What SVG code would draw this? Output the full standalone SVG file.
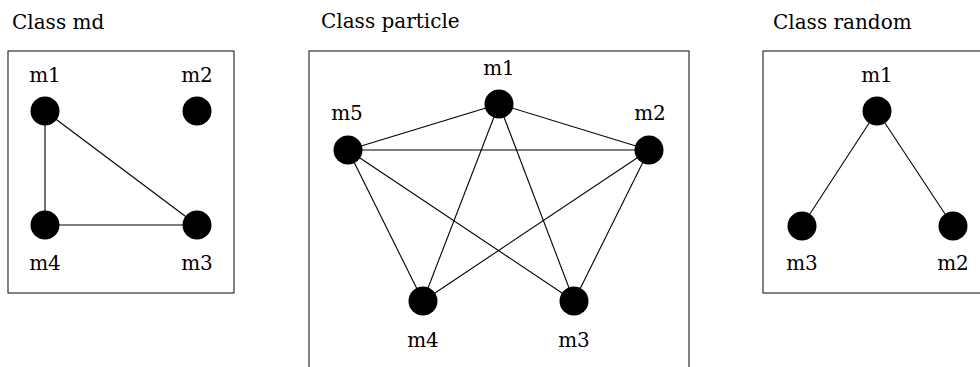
<svg xmlns="http://www.w3.org/2000/svg" width="980" height="367" viewBox="0 0 980 367">
<style>
text{font-family:"DejaVu Serif","Liberation Serif",serif;font-size:20px;fill:#000}
.lbl{text-anchor:middle}
.frame{fill:none;stroke:#333;stroke-width:1.2}
.edge{stroke:#000;stroke-width:1.1;fill:none}
.node{fill:#000}
</style>
<rect width="980" height="367" fill="#fff"/>
<g id="panel-md">
<text x="12" y="29">Class md</text>
<rect class="frame" x="8" y="51" width="226" height="242"/>
</g>
<g id="panel-particle">
<text x="321" y="28">Class particle</text>
<rect class="frame" x="309" y="51" width="380" height="330"/>
</g>
<g id="panel-random">
<text x="773" y="29">Class random</text>
<rect class="frame" x="763" y="51" width="240" height="242"/>
</g>
<g id="connectors">
<line class="edge" x1="45" y1="111" x2="45" y2="225"/>
<line class="edge" x1="45" y1="225" x2="197" y2="225"/>
<line class="edge" x1="45" y1="111" x2="197" y2="225"/>
<line class="edge" x1="499" y1="104" x2="348" y2="150"/>
<line class="edge" x1="499" y1="104" x2="649" y2="150"/>
<line class="edge" x1="348" y1="150" x2="649" y2="150"/>
<line class="edge" x1="348" y1="150" x2="423" y2="301"/>
<line class="edge" x1="348" y1="150" x2="574" y2="301"/>
<line class="edge" x1="499" y1="104" x2="423" y2="301"/>
<line class="edge" x1="499" y1="104" x2="574" y2="301"/>
<line class="edge" x1="649" y1="150" x2="423" y2="301"/>
<line class="edge" x1="649" y1="150" x2="574" y2="301"/>
<line class="edge" x1="877" y1="111" x2="802" y2="226"/>
<line class="edge" x1="877" y1="111" x2="953" y2="226"/>
</g>
<g id="md-m1"><circle class="node" cx="45" cy="111" r="14.5"/><text class="lbl" x="45" y="82">m1</text></g>
<g id="md-m2"><circle class="node" cx="197" cy="111" r="14.5"/><text class="lbl" x="197" y="82">m2</text></g>
<g id="md-m4"><circle class="node" cx="45" cy="225" r="14.5"/><text class="lbl" x="45" y="270">m4</text></g>
<g id="md-m3"><circle class="node" cx="197" cy="225" r="14.5"/><text class="lbl" x="197" y="270">m3</text></g>
<g id="particle-m1"><circle class="node" cx="499" cy="104" r="14.5"/><text class="lbl" x="499" y="75">m1</text></g>
<g id="particle-m5"><circle class="node" cx="348" cy="150" r="14.5"/><text class="lbl" x="347" y="120">m5</text></g>
<g id="particle-m2"><circle class="node" cx="649" cy="150" r="14.5"/><text class="lbl" x="650" y="120">m2</text></g>
<g id="particle-m4"><circle class="node" cx="423" cy="301" r="14.5"/><text class="lbl" x="423" y="347">m4</text></g>
<g id="particle-m3"><circle class="node" cx="574" cy="301" r="14.5"/><text class="lbl" x="574" y="347">m3</text></g>
<g id="random-m1"><circle class="node" cx="877" cy="111" r="14.5"/><text class="lbl" x="877" y="82">m1</text></g>
<g id="random-m3"><circle class="node" cx="802" cy="226" r="14.5"/><text class="lbl" x="802" y="270">m3</text></g>
<g id="random-m2"><circle class="node" cx="953" cy="226" r="14.5"/><text class="lbl" x="953" y="270">m2</text></g>
</svg>
